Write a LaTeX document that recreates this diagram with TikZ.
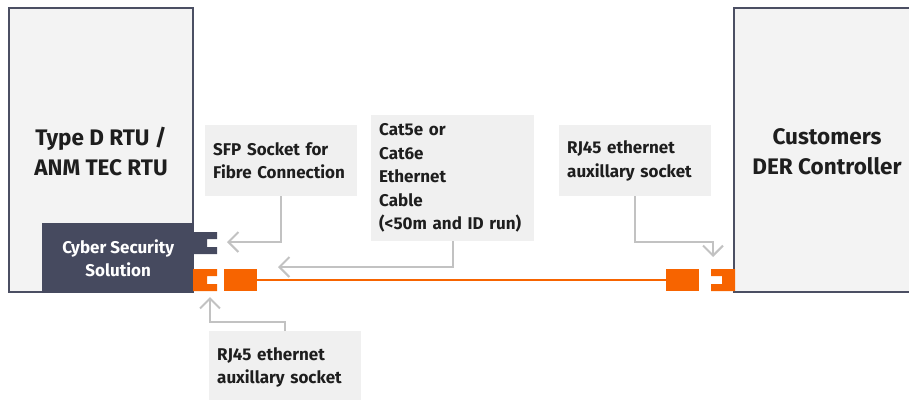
\documentclass[tikz,border=0pt]{standalone}
\usepackage{fontspec}
\setmainfont{Fira Sans}
\usetikzlibrary{arrows.meta}
\definecolor{boxfill}{HTML}{F3F3F3}
\definecolor{boxline}{HTML}{4B4F63}
\definecolor{cyber}{HTML}{464A5F}
\definecolor{cable}{HTML}{F76400}
\definecolor{callout}{HTML}{F0F0F0}
\definecolor{pointer}{HTML}{C2C2C2}
\definecolor{ink}{HTML}{1E1E1E}
\tikzset{
  unitbox/.style={draw=boxline, line width=1.6pt, fill=boxfill},
  title/.style={font=\bfseries\fontsize{22.5}{30}\selectfont, text=ink, align=center, inner sep=0pt},
  callbox/.style={fill=callout, anchor=north west, inner xsep=8pt, inner ysep=0pt,
    align=left, text=ink, font=\bfseries\fontsize{17}{23.5}\selectfont},
  pointerline/.style={draw=pointer, line width=2pt, -{Straight Barb[length=10pt,width=20pt,line width=2pt]}},
  plug/.style={fill=cable, inner sep=0pt, minimum width=33pt, minimum height=22pt},
}
\begin{document}
\begin{tikzpicture}[x=1pt, y=-1pt]
\useasboundingbox (0,0) rectangle (909,399);
\clip (0,0) rectangle (909,399);

% equipment housings
\draw[unitbox] (9,8) rectangle (193,292);
\draw[unitbox] (734,8) rectangle (930,292);
\node[title] (rtu) at (101,152) {Type D RTU /\\ANM TEC RTU};
\node[title] (der) at (827,152) {Customers\\DER Controller};

% security module
\node[fill=cyber, minimum width=152pt, minimum height=70pt, inner sep=0pt, anchor=north west,
  text=white, align=center, font=\bfseries\fontsize{17}{23}\selectfont] (cyb) at (42,223)
  {Cyber Security\\Solution};

% fibre socket
\fill[cyber] (193,232) -- (217,232) -- (217,239) -- (207,239) -- (207,247) -- (217,247)
  -- (217,254) -- (193,254) -- cycle;
% ethernet sockets
\fill[cable] (193,269) -- (217,269) -- (217,276) -- (207,276) -- (207,284) -- (217,284)
  -- (217,291) -- (193,291) -- cycle;
\fill[cable] (735,269) -- (711,269) -- (711,276) -- (722,276) -- (722,284) -- (711,284)
  -- (711,291) -- (735,291) -- cycle;

% cable with plugs
\node[plug] (lplug) at (240.5,280) {};
\node[plug] (rplug) at (682.5,280) {};
\draw[cable, line width=2.5pt] (lplug.east) -- (rplug.west);

% callouts
\node[callbox, text width=136pt, minimum height=71pt] (sfp) at (205,125)
  {SFP Socket for\\Fibre Connection};
\node[callbox, text width=147pt, minimum height=126pt] (cat) at (371,115)
  {Cat5e or\\Cat6e\\Ethernet\\Cable\\(<50m and ID run)};
\node[callbox, text width=136pt, minimum height=71pt] (rjr) at (559,125)
  {RJ45 ethernet\\auxillary socket};
\node[callbox, text width=136pt, minimum height=72pt] (rjl) at (209,331)
  {RJ45 ethernet\\auxillary socket};

% pointer ends
\coordinate (sfpTip) at (227,242);
\coordinate (catTip) at (278,267);
\coordinate (rjrBend) at (713,242);
\coordinate (rjrTip) at (713,257);
\coordinate (rjlBend) at (210,322);
\coordinate (rjlTip) at (210,297);

\draw[pointerline] (sfp.south) |- (sfpTip);
\draw[pointerline] (cat.south) |- (catTip);
\draw[pointerline] (rjr.south) |- (rjrBend) -- (rjrTip);
\draw[pointerline] (rjl.north) |- (rjlBend) -- (rjlTip);
\end{tikzpicture}
\end{document}
